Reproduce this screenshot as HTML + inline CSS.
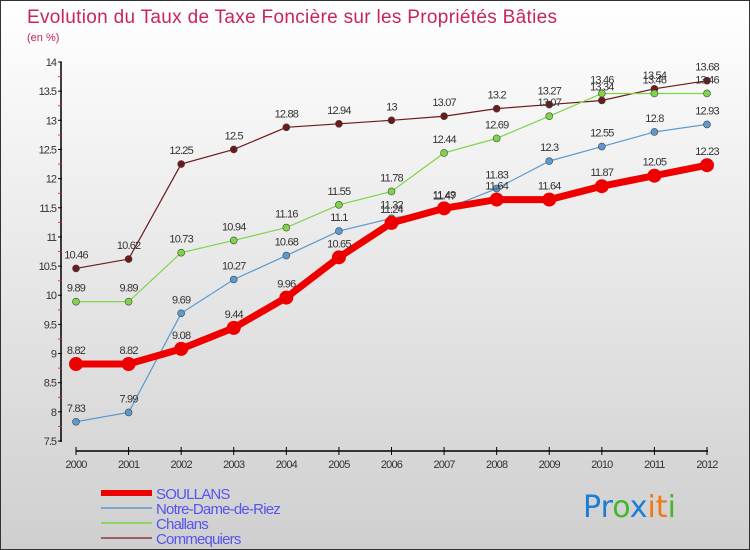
<!DOCTYPE html>
<html><head><meta charset="utf-8"><style>
body{margin:0;width:750px;height:550px;overflow:hidden;font-family:"Liberation Sans",sans-serif;}
#wrap{position:relative;width:748px;height:548px;border:1px solid #333;background:linear-gradient(#ffffff,#cfcfcf);}
</style></head><body>
<div id="wrap">
<svg id="chart" width="748" height="548" style="position:absolute;left:0;top:0">
<text x="26" y="22" font-size="19" fill="#c8245e" font-family="Liberation Sans, sans-serif" style="font-weight:300" textLength="530">Evolution du Taux de Taxe Foncière sur les Propriétés Bâties</text>
<text x="26" y="40" font-size="11" fill="#c8245e">(en %)</text>
<g id="axes"></g><g id="series"></g><g id="legend"></g>
<text x="582" y="516" font-size="30" font-family="DejaVu Sans, sans-serif"><tspan fill="#1a7fd4">Pr</tspan><tspan fill="#49b52d">o</tspan><tspan fill="#1a7fd4">x</tspan><tspan fill="#f07a10">it</tspan><tspan fill="#49b52d">i</tspan></text>
</svg>
</div>
<script>
const years=[2000,2001,2002,2003,2004,2005,2006,2007,2008,2009,2010,2011,2012];
const yTicks=[7.5,8,8.5,9,9.5,10,10.5,11,11.5,12,12.5,13,13.5,14];
const soullans=[8.82,8.82,9.08,9.44,9.96,10.65,11.24,11.49,11.64,11.64,11.87,12.05,12.23];
const notreDame=[7.83,7.99,9.69,10.27,10.68,11.1,11.32,11.47,11.83,12.3,12.55,12.8,12.93];
const challans=[9.89,9.89,10.73,10.94,11.16,11.55,11.78,12.44,12.69,13.07,13.46,13.46,13.46];
const commequiers=[10.46,10.62,12.25,12.5,12.88,12.94,13,13.07,13.2,13.27,13.34,13.54,13.68];
const NS='http://www.w3.org/2000/svg';
function xs(i){return 75+i*(706-75)/12;}
function ys(v){return 440-(v-7.5)*(440-61)/6.5;}
function mk(tag,attrs,parent){const e=document.createElementNS(NS,tag);for(const k in attrs)e.setAttribute(k,attrs[k]);parent.appendChild(e);return e;}
const axes=document.getElementById('axes');
let a=mk('line',{x1:60,y1:61,x2:60,y2:441,stroke:'#000','stroke-width':1.5},axes);


a=mk('line',{x1:75,y1:450,x2:707,y2:450,stroke:'#000','stroke-width':1.5},axes);


yTicks.forEach(v=>{
  const y=ys(v);
  mk('line',{x1:57,y1:y,x2:61,y2:y,stroke:'#000'},axes);
  if(v<14) mk('line',{x1:57,y1:y-14.5,x2:60,y2:y-14.5,stroke:'#e33'},axes);
  const t=mk('text',{x:55,y:y+4,'font-size':11,fill:'#333','text-anchor':'end','letter-spacing':'-1'},axes);
  t.textContent=String(v);
  
  
});
years.forEach((yr,i)=>{
  const x=xs(i);
  mk('line',{x1:x,y1:446,x2:x,y2:454,stroke:'#000'},axes);
  const t=mk('text',{x:x,y:467,'font-size':11,fill:'#333','text-anchor':'middle','letter-spacing':'-0.8'},axes);
  t.textContent=yr;
  
  
});
const series=[
 {name:'commequiers',data:commequiers,color:'#6e1a1a',w:1.2,r:3.5},
 {name:'challans',data:challans,color:'#7fd44a',w:1.2,r:3.5},
 {name:'notre-dame-de-riez',data:notreDame,color:'#5a9ad0',w:1.2,r:3.5},
 {name:'soullans',data:soullans,color:'#ee0000',w:7,r:7}
];
const sg=document.getElementById('series');
series.forEach(s=>{
  const g=mk('g',{},sg);
  
  
  const p=mk('polyline',{points:s.data.map((v,i)=>xs(i)+','+ys(v)).join(' '),fill:'none',stroke:s.color,'stroke-width':s.w},g);
  
  
  s.data.forEach((v,i)=>{
    const c=mk('circle',{cx:xs(i),cy:ys(v),r:s.r,fill:s.color,stroke:s.w>2?'none':'#444','stroke-width':0.6},g);
    
    
    const t=mk('text',{x:xs(i),y:ys(v)-10,'font-size':11,fill:'#333','text-anchor':'middle','letter-spacing':'-0.8'},g);
    t.textContent=String(v);
    
    
  });
});
const lg=document.getElementById('legend');
const leg=[['SOULLANS','#ee0000',6],['Notre-Dame-de-Riez','#7aa8cf',2],['Challans','#8fd46a',2],['Commequiers','#9a6060',2]];
leg.forEach((l,i)=>{
  const y=492+i*15;
  const g=mk('g',{},lg);
  
  
  mk('line',{x1:100,y1:y,x2:151,y2:y,stroke:l[1],'stroke-width':l[2]},g);
  const t=mk('text',{x:155,y:y+6,'font-size':15,fill:'#5555ee','letter-spacing':'-0.8'},g);
  t.textContent=l[0];
});
</script>
</body></html>
